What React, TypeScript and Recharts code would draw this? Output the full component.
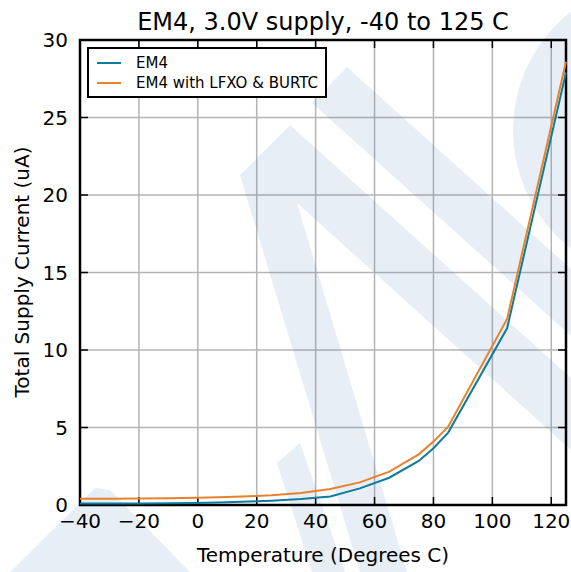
import React from "react";
import {
  LineChart,
  Line,
  XAxis,
  YAxis,
  CartesianGrid,
  Customized,
  ReferenceArea,
  ReferenceLine,
} from "recharts";

// temperature points (deg C)
const temps = [-40, -30, -20, -10, 0, 10, 20, 25, 35, 45, 55, 65, 75, 80, 85, 105, 125];
// total supply current (uA)
const em4 = [0.1, 0.1, 0.1, 0.11, 0.13, 0.17, 0.24, 0.28, 0.38, 0.55, 1.07, 1.76, 2.84, 3.66, 4.67, 11.4, 27.9];
const em4Lfxo = [0.4, 0.41, 0.42, 0.44, 0.47, 0.52, 0.58, 0.63, 0.78, 1.03, 1.46, 2.15, 3.27, 4.09, 5.05, 12.0, 28.6];

const xTicks = [-40, -20, 0, 20, 40, 60, 80, 100, 120];
const yTicks = [0, 5, 10, 15, 20, 25, 30];
const X_MIN = -40;
const X_MAX = 125;
const Y_MIN = 0;
const Y_MAX = 30;

const seriesNames = ["EM4", "EM4 with LFXO & BURTC"];
const BLUE = "#0f7b9c";
const ORANGE = "#e8812c";

const data = temps.map((t, i) => ({ t, em4: em4[i], lfxo: em4Lfxo[i] }));

const FONT = "DejaVu Sans, sans-serif";
const fmt = (v: number) => (v < 0 ? "\u2212" + Math.abs(v) : String(v));

// inward tick length in data units (~8px)
const X_TICK_LEN = 0.52;
const Y_TICK_LEN = 2.7;

const BottomTick = (props: any) => {
  const { x, y, payload } = props;
  return (
    <text x={x} y={y + 23} textAnchor="middle" fontSize={20} fontFamily={FONT} fill="#000">
      {fmt(payload.value)}
    </text>
  );
};

const LeftTick = (props: any) => {
  const { x, y, payload } = props;
  return (
    <text x={x - 12} y={y + 7} textAnchor="end" fontSize={20} fontFamily={FONT} fill="#000">
      {payload.value}
    </text>
  );
};

// faint logo watermark behind the plot
const Watermark = () => (
  <g fill="#3060a8" fillOpacity={0.11} stroke="none">
    <circle cx={663} cy={130} r={150} />
    <polygon points="240,175 290,125 297,203 407,572 360,572" />
    <polygon points="297,203 290,125 571,378 571,450" />
    <polygon points="347,67 571,269 571,336 312,103" />
    <polygon points="277,463 300,443 345,572 312,572" />
    <polygon points="10,572 95,488 110,490 190,572" />
  </g>
);

export default function App() {
  return (
    <div style={{ position: "fixed", left: 0, top: 0, width: 571, height: 572, background: "#fff" }}>
      <LineChart width={571} height={572} data={data} margin={{ top: 40, right: 5, left: 0, bottom: 0 }}>
        <Customized component={Watermark} />
        <CartesianGrid stroke="#b5b5b5" strokeWidth={1.5} />
        <XAxis
          dataKey="t"
          type="number"
          domain={[X_MIN, X_MAX]}
          ticks={xTicks}
          height={67}
          tickSize={0}
          tickMargin={0}
          tickLine={false}
          tick={<BottomTick />}
          axisLine={false}
          interval={0}
        />
        <YAxis
          type="number"
          domain={[Y_MIN, Y_MAX]}
          ticks={yTicks}
          width={80}
          tickSize={0}
          tickMargin={0}
          tickLine={false}
          tick={<LeftTick />}
          axisLine={false}
          interval={0}
        />
        {xTicks.map((v) => (
          <ReferenceLine
            key={"xb" + v}
            segment={[{ x: v, y: Y_MIN }, { x: v, y: Y_MIN + X_TICK_LEN }]}
            stroke="#000"
            strokeWidth={1.5}
          />
        ))}
        {xTicks.map((v) => (
          <ReferenceLine
            key={"xt" + v}
            segment={[{ x: v, y: Y_MAX }, { x: v, y: Y_MAX - X_TICK_LEN }]}
            stroke="#000"
            strokeWidth={1.5}
          />
        ))}
        {yTicks.map((v) => (
          <ReferenceLine
            key={"yl" + v}
            segment={[{ x: X_MIN, y: v }, { x: X_MIN + Y_TICK_LEN, y: v }]}
            stroke="#000"
            strokeWidth={1.5}
          />
        ))}
        {yTicks.map((v) => (
          <ReferenceLine
            key={"yr" + v}
            segment={[{ x: X_MAX, y: v }, { x: X_MAX - Y_TICK_LEN, y: v }]}
            stroke="#000"
            strokeWidth={1.5}
          />
        ))}
        <Line dataKey="em4" name={seriesNames[0]} stroke={BLUE} strokeWidth={2} dot={false} isAnimationActive={false} />
        <Line dataKey="lfxo" name={seriesNames[1]} stroke={ORANGE} strokeWidth={2} dot={false} isAnimationActive={false} />
        <ReferenceArea
          x1={X_MIN}
          x2={X_MAX}
          y1={Y_MIN}
          y2={Y_MAX}
          fill="none"
          fillOpacity={0}
          stroke="#000"
          strokeWidth={2.5}
        />
        <text x={323} y={30} textAnchor="middle" fontSize={24} fontFamily={FONT} fill="#000">
          EM4, 3.0V supply, -40 to 125 C
        </text>
        <text x={323} y={562} textAnchor="middle" fontSize={20} fontFamily={FONT} fill="#000">
          Temperature (Degrees C)
        </text>
        <text
          x={29}
          y={272}
          textAnchor="middle"
          fontSize={20}
          fontFamily={FONT}
          fill="#000"
          transform="rotate(-90 29 272)"
        >
          Total Supply Current (uA)
        </text>
      </LineChart>
      <div
        style={{
          position: "absolute",
          left: 87,
          top: 47,
          width: 236,
          height: 47,
          border: "2px solid #000",
          background: "#fff",
          fontFamily: FONT,
          fontSize: 15,
          boxSizing: "content-box",
        }}
      >
        {seriesNames.map((n, i) => (
          <div
            key={n}
            style={{ position: "absolute", left: 8, top: 4 + i * 20, height: 20, display: "flex", alignItems: "center" }}
          >
            <span
              style={{ display: "inline-block", width: 24, height: 2, background: i === 0 ? BLUE : ORANGE, marginRight: 15 }}
            />
            <span>{n}</span>
          </div>
        ))}
      </div>
    </div>
  );
}
